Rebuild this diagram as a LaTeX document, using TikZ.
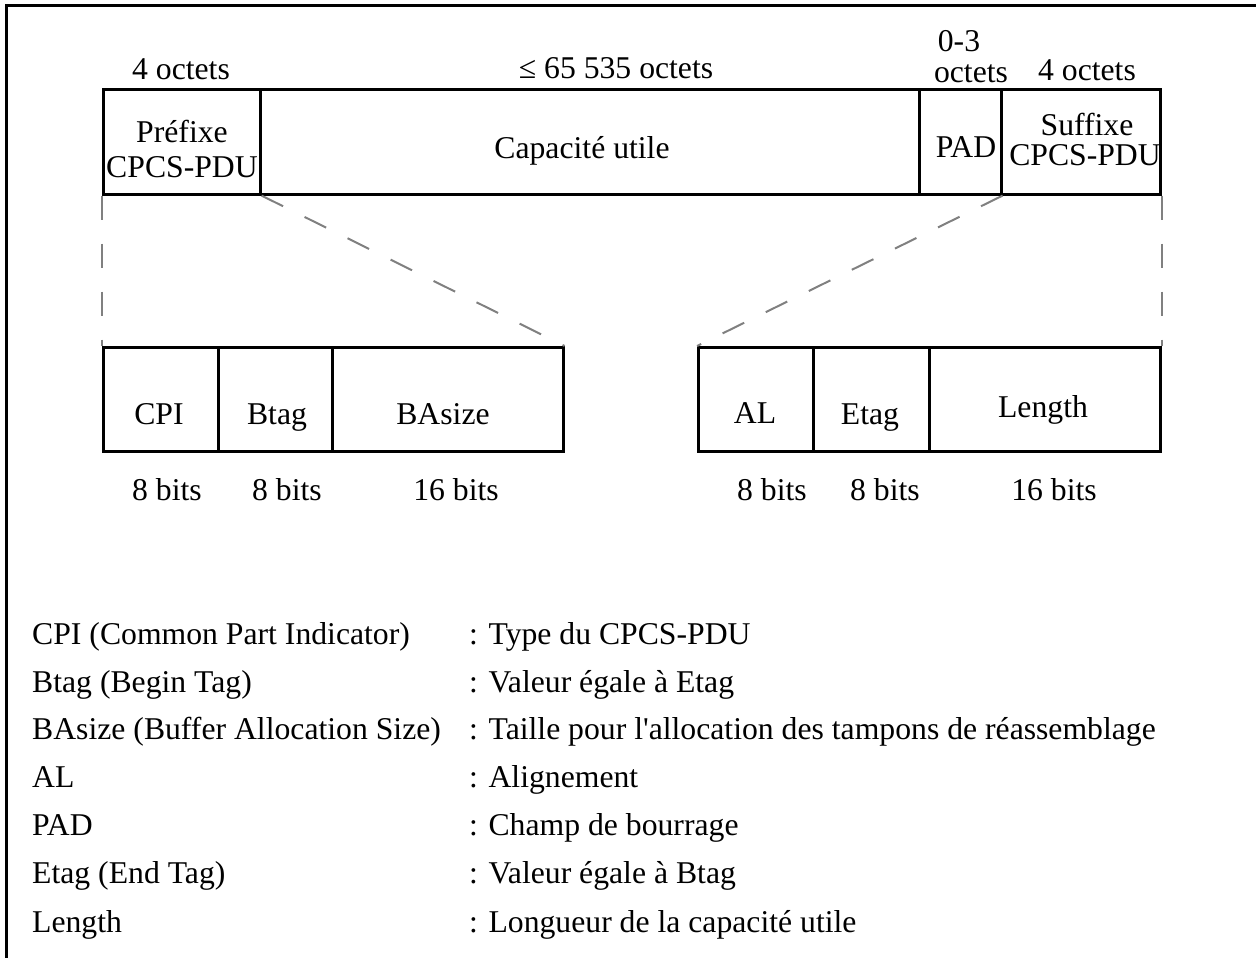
\documentclass[tikz,border=0pt]{standalone}
\usepackage{fontspec}
\setmainfont{Liberation Serif}
\begin{document}
\begin{tikzpicture}[x=1pt,y=-1pt,
  field/.style={draw,line width=2.6pt,inner sep=0pt,anchor=north west,minimum height=#1},
  field/.default=105pt,
  txt/.style={anchor=base,inner sep=0pt,font=\fontsize{31.7}{36}\selectfont},
  leg/.style={anchor=base west,inner sep=0pt,font=\fontsize{31.7}{36}\selectfont},
  zoomline/.style={draw=gray,line width=2pt,dash pattern=on 24pt off 24pt}]
\useasboundingbox (0,0) rectangle (1256,958);
\draw[line width=3pt] (1256,5.5) -- (6.5,5.5) -- (6.5,958);
% top PDU
\node[field,minimum width=157pt] (pre) at (102,88) {};
\node[field,minimum width=659pt] (cap) at (259,88) {};
\node[field,minimum width=82pt]  (pad) at (918,88) {};
\node[field,minimum width=159pt] (suf) at (1000,88) {};
% header fields
\node[field=104pt,minimum width=115pt] (cpi) at (102,346) {};
\node[field=104pt,minimum width=114pt] (btag) at (217,346) {};
\node[field=104pt,minimum width=231pt] (basize) at (331,346) {};
% trailer fields
\node[field=104pt,minimum width=115pt] (al) at (697,346) {};
\node[field=104pt,minimum width=116pt] (etag) at (812,346) {};
\node[field=104pt,minimum width=231pt] (len) at (928,346) {};
% zoom lines
\draw[zoomline] (pre.south west) -- (cpi.north west);
\draw[zoomline] (pre.south east) -- (basize.north east);
\draw[zoomline] (pad.south east) -- (al.north west);
\draw[zoomline] (suf.south east) -- (len.north east);
% top labels
\node[txt] (l1) at (181,80) {4 octets};
\node[txt] (l2) at (616,78) {≤ 65 535 octets};
\node[txt] (l3a) at (959,52) {0-3};
\node[txt] (l3b) at (971,82) {octets};
\node[txt] (l4) at (1087,81) {4 octets};
\node[txt] (t1a) at (182,142) {Préfixe};
\node[txt] (t1b) at (182,177) {CPCS-PDU};
\node[txt] (t2) at (582,158) {Capacité utile};
\node[txt] (t3) at (966,157) {PAD};
\node[txt] (t4a) at (1087,135) {Suffixe};
\node[txt] (t4b) at (1085,165) {CPCS-PDU};
% field labels
\node[txt] (f1) at (159,424) {CPI};
\node[txt] (f2) at (277,424) {Btag};
\node[txt] (f3) at (443,424) {BAsize};
\node[txt] (f4) at (755,423) {AL};
\node[txt] (f5) at (870,424) {Etag};
\node[txt] (f6) at (1043,417) {Length};
% bit sizes
\node[txt] (b1) at (167,500) {8 bits};
\node[txt] (b2) at (287,500) {8 bits};
\node[txt] (b3) at (456,500) {16 bits};
\node[txt] (b4) at (772,500) {8 bits};
\node[txt] (b5) at (885,500) {8 bits};
\node[txt] (b6) at (1054,500) {16 bits};
% legend
\node[leg] (k1) at (32,644) {CPI (Common Part Indicator)};
\node[leg] (k2) at (32,692) {Btag (Begin Tag)};
\node[leg] (k3) at (32,739) {BAsize (Buffer Allocation Size)};
\node[leg] (k4) at (32,787) {AL};
\node[leg] (k5) at (32,835) {PAD};
\node[leg] (k6) at (32,883) {Etag (End Tag)};
\node[leg] (k7) at (32,932) {Length};
\node[leg] (d1) at (469,644) {: Type du CPCS-PDU};
\node[leg] (d2) at (469,692) {: Valeur égale à Etag};
\node[leg] (d3) at (469,739) {: Taille pour l\textquotesingle allocation des tampons de réassemblage};
\node[leg] (d4) at (469,787) {: Alignement};
\node[leg] (d5) at (469,835) {: Champ de bourrage};
\node[leg] (d6) at (469,883) {: Valeur égale à Btag};
\node[leg] (d7) at (469,932) {: Longueur de la capacité utile};
\end{tikzpicture}
\end{document}
